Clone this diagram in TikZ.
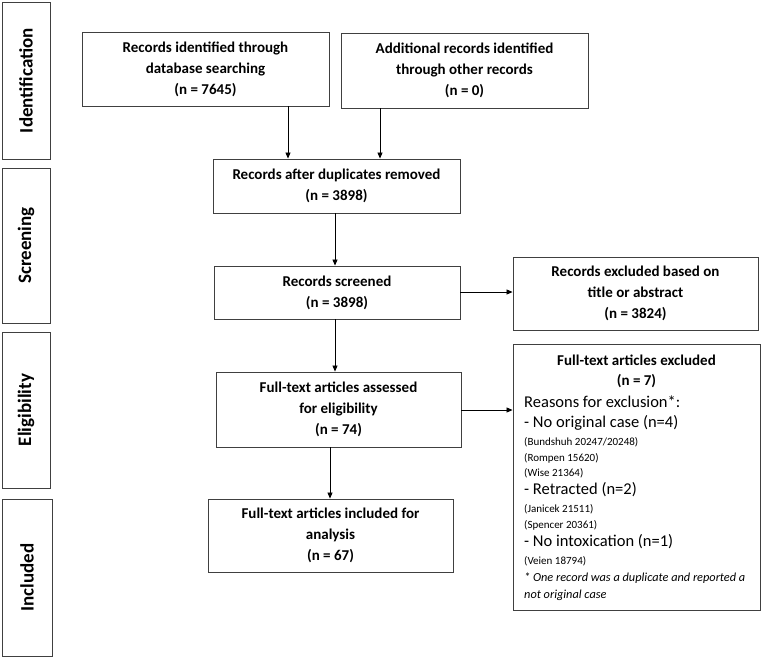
\documentclass[tikz,border=0pt]{standalone}
\usepackage{fontspec}
\setmainfont{Carlito}
\usetikzlibrary{arrows.meta}
\begin{document}
\begin{tikzpicture}[x=1pt,y=-1pt,
  box/.style={draw=black!75, line width=0.9pt, inner sep=0pt, align=center, font=\fontsize{15}{21}\selectfont\bfseries},
  phase/.style={draw=black!75, line width=0.9pt, inner sep=0pt, minimum width=48pt},
  plabel/.style={rotate=90, font=\fontsize{19}{21}\selectfont\bfseries},
  arr/.style={draw=black, line width=0.8pt, -{Triangle[length=6pt,width=5pt]}},
  big/.style={anchor=west, inner sep=0pt, font=\fontsize{16.5}{18}\selectfont},
  small/.style={anchor=west, inner sep=0pt, font=\fontsize{11}{13}\selectfont},
  note/.style={anchor=west, inner sep=0pt, font=\fontsize{12.3}{14}\selectfont\itshape},
]
\useasboundingbox (0,0) rectangle (762,659);
% phase boxes
\node[phase, minimum height=157pt] (ID) at (26,80.5) {};
\node[plabel] at (ID.center) {Identification};
\node[phase, minimum height=155pt] (SC) at (26,245.5) {};
\node[plabel] at (SC.center) {Screening};
\node[phase, minimum height=156pt] (EL) at (26,410) {};
\node[plabel] at (EL.center) {Eligibility};
\node[phase, minimum width=50pt, minimum height=157pt] (IN) at (27,577.5) {};
\node[plabel] at (IN.center) {Included};
% flow boxes
\node[box, minimum width=247pt, minimum height=74pt] (B1) at (205.5,69) {Records identified through\\database searching\\(n = 7645)};
\node[box, minimum width=247pt, minimum height=75pt] (B2) at (464.5,70.5) {Additional records identified\\through other records\\(n = 0)};
\node[box, minimum width=247pt, minimum height=54pt] (B3) at (336.5,186) {Records after duplicates removed\\(n = 3898)};
\node[box, minimum width=246pt, minimum height=53pt] (B4) at (337,292.5) {Records screened\\(n = 3898)};
\node[box, minimum width=245pt, minimum height=73pt] (B5) at (635.5,293.5) {Records excluded based on\\title or abstract\\(n = 3824)};
\node[box, minimum width=245pt, minimum height=75pt] (B6) at (338.5,409.5) {Full-text articles assessed\\for eligibility\\(n = 74)};
\node[box, minimum width=245pt, minimum height=73pt] (B7) at (330.5,535.5) {Full-text articles included for\\analysis\\(n = 67)};
\node[box, minimum width=247pt, minimum height=266pt] (B8) at (636.5,477) {};
% B8 contents
\node[box, draw=none, anchor=center] (t1) at (636.5,360) {Full-text articles excluded};
\node[box, draw=none, anchor=center] (t2) at (636.5,381) {(n = 7)};
\node[big] (t3) at (524,402) {Reasons for exclusion*:};
\node[big] (t4) at (524,423) {- No original case (n=4)};
\node[small] (t5) at (524,442) {(Bundshuh 20247/20248)};
\node[small] (t6) at (524,458) {(Rompen 15620)};
\node[small] (t7) at (524,473) {(Wise 21364)};
\node[big] (t8) at (524,490) {- Retracted (n=2)};
\node[small] (t9) at (524,509) {(Janicek 21511)};
\node[small] (t10) at (524,525) {(Spencer 20361)};
\node[big] (t11) at (524,542) {- No intoxication (n=1)};
\node[small] (t12) at (524,561) {(Veien 18794)};
\node[note] (t13) at (524,578) {* One record was a duplicate and reported a};
\node[note] (t14) at (524,595) {not original case};
% arrows
\coordinate (xa) at (288,0);
\coordinate (xb) at (380,0);
\coordinate (xc) at (335,0);
\coordinate (xd) at (330,0);
\coordinate (ya) at (0,292);
\coordinate (yb) at (0,410);
\draw[arr] (B1.south -| xa) -- (B3.north -| xa);
\draw[arr] (B2.south -| xb) -- (B3.north -| xb);
\draw[arr] (B3.south -| xc) -- (B4.north -| xc);
\draw[arr] (B4.south -| xc) -- (B6.north -| xc);
\draw[arr] (B4.east |- ya) -- (B5.west |- ya);
\draw[arr] (B6.east |- yb) -- (B8.west |- yb);
\draw[arr] (B6.south -| xd) -- (B7.north -| xd);
\end{tikzpicture}
\end{document}
